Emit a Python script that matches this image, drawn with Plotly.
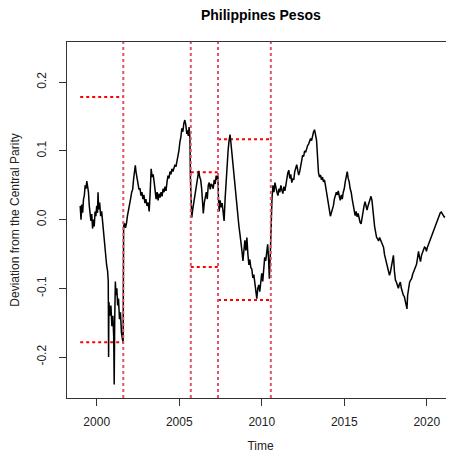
import plotly.graph_objects as go

# ---- data ----
t = [1999.00,1999.05,1999.10,1999.15,1999.20,1999.25,1999.30,1999.35,1999.40,1999.45,1999.50,1999.55,1999.60,1999.65,1999.70,1999.75,1999.80,1999.85,1999.90,1999.95,
     2000.00,2000.05,2000.08,2000.12,2000.18,2000.24,2000.30,2000.36,2000.42,2000.48,2000.54,2000.60,2000.66,2000.70,2000.72,2000.74,2000.80,2000.86,2000.92,2000.98,
     2001.03,2001.06,2001.09,2001.13,2001.17,2001.22,2001.27,2001.32,2001.38,2001.44,2001.50,2001.56,2001.60,2001.63,2001.68,2001.74,2001.80,2001.86,2001.92,2001.98,
     2002.05,2002.12,2002.18,2002.24,2002.30,2002.34,2002.38,2002.44,2002.50,2002.56,2002.62,2002.68,2002.74,2002.80,2002.86,2002.92,2002.98,
     2003.05,2003.12,2003.18,2003.24,2003.30,2003.36,2003.42,2003.48,2003.54,2003.60,2003.66,2003.72,2003.78,2003.84,2003.90,2003.96,
     2004.02,2004.08,2004.14,2004.20,2004.26,2004.32,2004.38,2004.44,2004.50,2004.56,2004.62,2004.68,2004.74,2004.80,2004.86,2004.92,2004.98,
     2005.04,2005.10,2005.16,2005.22,2005.28,2005.34,2005.40,2005.46,2005.50,2005.55,2005.60,2005.65,2005.68,2005.72,2005.76,2005.82,2005.88,2005.94,
     2006.00,2006.06,2006.12,2006.18,2006.24,2006.30,2006.36,2006.42,2006.46,2006.52,2006.58,2006.64,2006.70,2006.76,2006.82,2006.88,2006.94,
     2007.00,2007.06,2007.12,2007.18,2007.24,2007.30,2007.34,2007.38,2007.42,2007.48,2007.54,2007.60,2007.66,2007.72,2007.78,2007.84,2007.90,2007.96,
     2008.02,2008.08,2008.14,2008.20,2008.26,2008.32,2008.38,2008.44,2008.50,2008.56,2008.62,2008.68,2008.74,2008.80,2008.86,2008.92,2008.98,
     2009.04,2009.10,2009.16,2009.22,2009.28,2009.34,2009.40,2009.46,2009.52,2009.58,2009.64,2009.70,2009.76,2009.82,2009.88,2009.94,
     2010.00,2010.06,2010.12,2010.18,2010.24,2010.30,2010.36,2010.42,2010.46,2010.52,2010.56,2010.62,2010.68,2010.74,2010.80,2010.86,2010.92,2010.98,
     2011.04,2011.10,2011.16,2011.22,2011.28,2011.34,2011.40,2011.46,2011.52,2011.58,2011.64,2011.70,2011.76,2011.82,2011.88,2011.94,
     2012.00,2012.06,2012.12,2012.18,2012.24,2012.30,2012.36,2012.42,2012.48,2012.54,2012.60,2012.66,2012.72,2012.78,2012.84,2012.90,2012.96,
     2013.02,2013.08,2013.14,2013.20,2013.26,2013.32,2013.36,2013.40,2013.44,2013.50,2013.56,2013.62,2013.68,2013.74,2013.80,2013.86,2013.92,2013.98,
     2014.04,2014.10,2014.16,2014.22,2014.28,2014.34,2014.40,2014.46,2014.52,2014.58,2014.64,2014.70,2014.76,2014.82,2014.88,2014.94,
     2015.00,2015.06,2015.12,2015.18,2015.24,2015.30,2015.36,2015.42,2015.48,2015.54,2015.60,2015.66,2015.72,2015.78,2015.84,2015.90,2015.96,
     2016.02,2016.08,2016.14,2016.20,2016.26,2016.32,2016.38,2016.44,2016.50,2016.56,2016.62,2016.68,2016.72,2016.78,2016.84,2016.90,2016.96,
     2017.02,2017.08,2017.14,2017.20,2017.26,2017.32,2017.38,2017.44,2017.50,2017.56,2017.62,2017.68,2017.74,2017.80,2017.86,2017.92,2017.98,
     2018.04,2018.10,2018.16,2018.22,2018.28,2018.34,2018.40,2018.46,2018.52,2018.58,2018.64,2018.70,2018.76,2018.80,2018.84,2018.90,2018.96,
     2019.02,2019.08,2019.14,2019.20,2019.26,2019.32,2019.38,2019.44,2019.50,2019.56,2019.62,2019.68,2019.74,2019.80,2019.86,2019.92,2019.98,
     2020.04,2020.10,2020.16,2020.22,2020.28,2020.34,2020.40,2020.46,2020.52,2020.58,2020.64,2020.70,2020.76,2020.82,2020.88,2020.94,
     2021.00,2021.06,2021.10]

deviation = [0.020,0.000,0.022,0.010,0.030,0.035,0.050,0.045,0.056,0.050,0.040,0.020,0.010,-0.002,0.008,-0.013,0.000,-0.010,0.012,0.005,
     0.020,0.010,0.040,0.015,0.025,0.005,0.012,-0.005,-0.020,-0.032,-0.045,-0.066,-0.075,-0.090,-0.200,-0.120,-0.140,-0.125,-0.155,-0.140,
     -0.170,-0.240,-0.150,-0.090,-0.110,-0.100,-0.125,-0.115,-0.145,-0.135,-0.165,-0.175,-0.180,-0.010,-0.005,-0.012,-0.006,0.005,0.015,0.022,
     0.030,0.040,0.044,0.060,0.075,0.079,0.070,0.060,0.052,0.044,0.046,0.035,0.040,0.030,0.036,0.024,0.030,
     0.020,0.025,0.012,0.040,0.074,0.062,0.066,0.055,0.045,0.030,0.040,0.028,0.038,0.032,0.040,0.034,
     0.045,0.040,0.048,0.042,0.055,0.064,0.060,0.070,0.066,0.074,0.070,0.075,0.080,0.077,0.085,0.088,0.100,
     0.113,0.120,0.133,0.128,0.140,0.145,0.138,0.125,0.130,0.122,0.135,0.118,0.060,0.020,0.003,0.015,0.025,0.030,
     0.040,0.055,0.062,0.071,0.062,0.058,0.045,0.030,0.009,0.025,0.035,0.040,0.030,0.050,0.054,0.044,0.052,
     0.050,0.045,0.058,0.052,0.064,0.058,0.066,0.030,0.012,0.028,0.018,0.024,0.008,-0.002,0.030,0.060,0.080,0.100,
     0.115,0.124,0.110,0.094,0.080,0.065,0.052,0.035,0.020,0.008,-0.010,-0.021,-0.030,-0.045,-0.060,-0.040,-0.030,
     -0.045,-0.026,-0.050,-0.066,-0.058,-0.070,-0.072,-0.085,-0.080,-0.095,-0.100,-0.115,-0.100,-0.095,-0.105,-0.085,
     -0.078,-0.090,-0.065,-0.055,-0.060,-0.045,-0.036,-0.060,-0.086,-0.050,0.000,0.030,0.050,0.040,0.054,0.045,0.040,0.035,
     0.045,0.040,0.050,0.043,0.038,0.048,0.042,0.050,0.060,0.068,0.072,0.060,0.066,0.054,0.060,0.058,
     0.070,0.078,0.080,0.072,0.065,0.070,0.080,0.088,0.094,0.092,0.100,0.098,0.104,0.108,0.110,0.113,0.118,
     0.115,0.124,0.128,0.131,0.122,0.116,0.100,0.080,0.068,0.062,0.065,0.058,0.062,0.055,0.058,0.050,0.040,0.030,
     0.024,0.015,0.005,0.010,0.015,0.020,0.030,0.035,0.040,0.036,0.042,0.034,0.028,0.036,0.030,0.040,
     0.045,0.055,0.065,0.070,0.060,0.055,0.045,0.040,0.030,0.020,0.010,0.006,0.012,0.004,0.009,0.002,-0.004,
     -0.006,0.004,0.012,0.020,0.026,0.018,0.014,0.020,0.026,0.030,0.034,0.028,0.012,0.004,-0.010,-0.020,-0.026,
     -0.028,-0.031,-0.026,-0.030,-0.034,-0.036,-0.040,-0.051,-0.058,-0.064,-0.071,-0.078,-0.081,-0.076,-0.068,-0.066,-0.052,
     -0.075,-0.088,-0.091,-0.098,-0.100,-0.094,-0.091,-0.100,-0.108,-0.110,-0.112,-0.118,-0.124,-0.130,-0.110,-0.095,-0.091,
     -0.088,-0.086,-0.080,-0.076,-0.074,-0.071,-0.065,-0.056,-0.046,-0.055,-0.061,-0.052,-0.048,-0.044,-0.040,-0.041,-0.046,
     -0.040,-0.036,-0.032,-0.028,-0.026,-0.020,-0.016,-0.012,-0.008,-0.004,-0.001,0.004,0.009,0.010,0.011,0.008,
     0.006,0.004,0.005]

break_dates = [2001.61, 2005.70, 2007.35, 2010.55]
band_start = [1999.00, 2005.70, 2007.35]
band_end = [2001.61, 2007.35, 2010.55]
band_width = [0.1786, 0.069, 0.117]

x_ticks = [2000, 2005, 2010, 2015, 2020]
y_ticks = [-0.2, -0.1, 0.0, 0.1, 0.2]
y_tick_text = ["-0.2", "-0.1", "0.0", "0.1", "0.2"]

FONT = "Liberation Sans, Arial, sans-serif"

fig = go.Figure()

# horizontal band limits (upper and lower)
for s, e, w in zip(band_start, band_end, band_width):
    for sign in (1, -1):
        fig.add_trace(go.Scatter(x=[s, e], y=[sign * w, sign * w], mode="lines",
                                 line=dict(color="#ff0000", width=2, dash="dot"),
                                 hoverinfo="skip", showlegend=False))

fig.add_trace(go.Scatter(x=t, y=deviation, mode="lines",
                         line=dict(color="black", width=1.5),
                         showlegend=False))

for b in break_dates:
    fig.add_shape(type="line", xref="x", yref="paper", x0=b, x1=b, y0=0, y1=1,
                  line=dict(color="#DF536B", width=2, dash="dot"))

# the page body has an 8px default margin, so the figure is sized to fit the window
fig.update_layout(
    width=446, height=446,
    margin=dict(l=59, r=0, t=34, b=56),
    paper_bgcolor="white", plot_bgcolor="white",
    font=dict(family=FONT, size=12, color="#222"),
    title=dict(text="<b>Philippines Pesos</b>", x=0.567, xanchor="center",
               y=0.985, yanchor="middle", font=dict(size=14, color="black")),
    xaxis=dict(range=[1998.2, 2021.65], tickvals=x_ticks, ticks="outside", ticklen=7,
               tickcolor="#333", showline=True, linecolor="#333", linewidth=1, mirror=True,
               showgrid=False, zeroline=False, ticklabelstandoff=6, automargin=False,
               title=dict(text="Time", standoff=13, font=dict(size=12))),
    yaxis=dict(range=[-0.2597, 0.2587], tickvals=y_ticks, ticktext=y_tick_text,
               ticks="outside", ticklen=7, tickangle=-90,
               tickcolor="#333", showline=True, linecolor="#333", linewidth=1, mirror=True,
               showgrid=False, zeroline=False, ticklabelstandoff=8, automargin=False,
               title=dict(text="Deviation from the Central Parity", standoff=14, font=dict(size=12))),
)

fig.write_html("out.html")
